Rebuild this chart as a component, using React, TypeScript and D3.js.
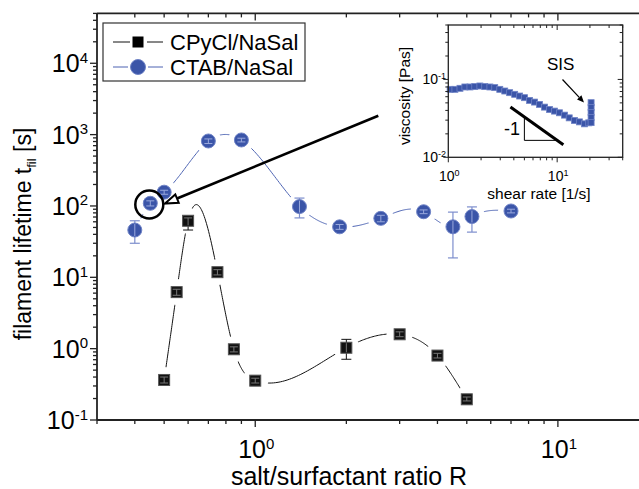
import React from 'react';
import * as d3 from 'd3';

// ---------- data ----------
const ctabR = [0.4, 0.45, 0.5, 0.7, 0.9, 1.4, 1.9, 2.6, 3.6, 4.5, 5.2, 7.0];
const ctabT = [46, 109, 156, 814, 841, 98, 51, 67, 83, 51, 71, 85];
const ctabLo = [30, 100, 146, 750, 790, 68, 47, 60, 78, 18.7, 43, 80];
const ctabHi = [62, 118, 166, 870, 890, 129, 55, 74, 88, 82, 97, 90];

const cpyR = [0.5, 0.55, 0.6, 0.75, 0.85, 1.0, 2.0, 3.0, 4.0, 5.0];
const cpyT = [0.364, 6.2, 62, 11.8, 0.98, 0.356, 1.03, 1.59, 0.8, 0.195];
const cpyLo = [0.33, 5.6, 46, 10.8, 0.9, 0.33, 0.71, 1.47, 0.74, 0.185];
const cpyHi = [0.4, 6.8, 68, 12.8, 1.06, 0.385, 1.35, 1.72, 0.86, 0.21];

const insetShear = [1.04, 1.15, 1.28, 1.42, 1.58, 1.75, 1.95, 2.16, 2.41, 2.67, 2.97, 3.3, 3.66, 4.07, 4.52, 5.02, 5.58, 6.2, 6.89, 7.66, 8.51, 9.45, 10.5, 11.7, 12.9, 14.4, 16.0, 17.8, 19.5, 20.5, 20.5, 20.5, 20.5, 20.5];
const insetVisc = [0.0746, 0.0746, 0.0769, 0.08, 0.08, 0.081, 0.0824, 0.081, 0.08, 0.0785, 0.0746, 0.071, 0.0676, 0.0644, 0.0612, 0.0583, 0.0538, 0.0512, 0.0478, 0.0441, 0.0411, 0.0392, 0.0373, 0.0348, 0.0321, 0.0297, 0.0285, 0.0269, 0.0277, 0.0503, 0.0437, 0.0377, 0.0324, 0.0279];

const mainXMajor = [1, 10];
const mainXMajorExp = ['0', '1'];
const mainYMajor = [0.1, 1, 10, 100, 1000, 10000];
const mainYMajorExp = ['-1', '0', '1', '2', '3', '4'];
const insetXMajor = [1, 10];
const insetXMajorExp = ['0', '1'];
const insetYMajor = [0.01, 0.1];
const insetYMajorExp = ['-2', '-1'];

const legendLabels = ['CPyCl/NaSal', 'CTAB/NaSal'];

// slope triangle (-1)
const slopeX = [3.72, 11.4];
const slopeK = 0.165;
const triX = [5, 10];

const FONT = 'Liberation Sans, Arial, Helvetica, sans-serif';
const BLUE = '#3b55a8';
const BLUE_EDGE = '#6f83c6';
const BLUE_LINE = '#4c63b2';
const BLUE_ERR = '#7d8ecd';

// ---------- scales ----------
const W = 639, H = 489;
const x = d3.scaleLog().domain([0.3, 20]).range([97, 649]);
const y = d3.scaleLog().domain([0.1, 50000]).range([420, 13.4]);
const xi = d3.scaleLog().domain([1, 40]).range([448.3, 622.7]);
const yi = d3.scaleLog().domain([0.01, 0.5]).range([157.3, 25]);

function minorTicks(lo: number, hi: number): number[] {
  const out: number[] = [];
  for (let e = Math.floor(Math.log10(lo)); e <= Math.ceil(Math.log10(hi)); e++) {
    for (let m = 2; m <= 9; m++) {
      const v = m * Math.pow(10, e);
      if (v >= lo * 0.999 && v <= hi * 1.001) out.push(v);
    }
  }
  return out;
}

function naturalSpline(xs: number[], ys: number[], n = 40): [number, number][] {
  const N = xs.length;
  const h: number[] = [];
  for (let i = 0; i < N - 1; i++) h.push(xs[i + 1] - xs[i]);
  const a = new Array(N).fill(0), b = new Array(N).fill(0), c = new Array(N).fill(0), d = new Array(N).fill(0);
  b[0] = 1; b[N - 1] = 1;
  for (let i = 1; i < N - 1; i++) {
    a[i] = h[i - 1];
    b[i] = 2 * (h[i - 1] + h[i]);
    c[i] = h[i];
    d[i] = 6 * ((ys[i + 1] - ys[i]) / h[i] - (ys[i] - ys[i - 1]) / h[i - 1]);
  }
  for (let i = 1; i < N; i++) {
    const m = a[i] / b[i - 1];
    b[i] -= m * c[i - 1];
    d[i] -= m * d[i - 1];
  }
  const M = new Array(N).fill(0);
  M[N - 1] = d[N - 1] / b[N - 1];
  for (let i = N - 2; i >= 0; i--) M[i] = (d[i] - c[i] * M[i + 1]) / b[i];
  const pts: [number, number][] = [];
  for (let i = 0; i < N - 1; i++) {
    for (let k = 0; k <= n; k++) {
      const t = xs[i] + (h[i] * k) / n;
      const A = (xs[i + 1] - t) / h[i];
      const B = (t - xs[i]) / h[i];
      const v = A * ys[i] + B * ys[i + 1] + ((A * A * A - A) * M[i] + (B * B * B - B) * M[i + 1]) * (h[i] * h[i]) / 6;
      pts.push([t, v]);
    }
  }
  return pts;
}

const line = d3.line<[number, number]>().x((p) => p[0]).y((p) => p[1]);

function Sup({ base, exp, bs, es }: { base: string; exp: string; bs: number; es: number }) {
  return (
    <>
      <tspan fontSize={bs}>{base}</tspan>
      <tspan fontSize={es} dy={-bs * 0.38}>{exp}</tspan>
    </>
  );
}

export default function App() {
  const cpyPx = cpyR.map((r) => x(r));
  const cpyPy = cpyT.map((t) => y(t));
  const ctabPx = ctabR.map((r) => x(r));
  const ctabPy = ctabT.map((t) => y(t));
  const cpyCurve = line(naturalSpline(cpyPx, cpyPy)) || '';
  const ctabCurve = line(naturalSpline(ctabPx, ctabPy)) || '';

  const xMinor = minorTicks(0.3, 20).filter((v) => !mainXMajor.includes(v));
  const yMinor = minorTicks(0.1, 50000).filter((v) => !mainYMajor.some((m) => Math.abs(m - v) < 1e-9));
  const xiMinor = minorTicks(1, 40).filter((v) => !insetXMajor.includes(v));
  const yiMinor = minorTicks(0.01, 0.5).filter((v) => !insetYMajor.some((m) => Math.abs(m - v) < 1e-12));

  const L = 97, R = 649, T = 13.4, B = 420;
  const iL = 448.3, iR = 622.7, iT = 25, iB = 157.3;
  const axisCol = '#222';

  const gap = 13;
  const sq = 11;
  const cr = 7;

  function innerErr(cx: number, cy: number, lo: number, hi: number, half: number, col: string, key: string) {
    const y1 = Math.max(hi, cy - half + 1);
    const y2 = Math.min(lo, cy + half - 1);
    const els = [<line key={key + 's'} x1={cx} x2={cx} y1={y1} y2={y2} stroke={col} strokeWidth={1} />];
    if (hi > cy - half) els.push(<line key={key + 'h'} x1={cx - 4} x2={cx + 4} y1={hi} y2={hi} stroke={col} strokeWidth={1} />);
    if (lo < cy + half) els.push(<line key={key + 'l'} x1={cx - 4} x2={cx + 4} y1={lo} y2={lo} stroke={col} strokeWidth={1} />);
    return els;
  }

  // arrow geometry
  const a0 = [378.3, 115.7], a1 = [165, 203.5];
  const ang = Math.atan2(a1[1] - a0[1], a1[0] - a0[0]);
  const ahL = 13, ahW = 4.5;
  const bx = a1[0] - ahL * Math.cos(ang), by = a1[1] - ahL * Math.sin(ang);
  const px = -Math.sin(ang) * ahW, py = Math.cos(ang) * ahW;

  const s0 = [562.5, 79.5], s1 = [584, 102.5];
  const sang = Math.atan2(s1[1] - s0[1], s1[0] - s0[0]);
  const sL = 7, sW = 3;
  const sbx = s1[0] - sL * Math.cos(sang), sby = s1[1] - sL * Math.sin(sang);
  const spx = -Math.sin(sang) * sW, spy = Math.cos(sang) * sW;

  return (
    <svg width={W} height={H} style={{ position: 'absolute', left: 0, top: 0, background: '#fff' }} fontFamily={FONT}>
      <rect x={0} y={0} width={W} height={H} fill="#fff" />
      <defs>
        <mask id="gapBlack" maskUnits="userSpaceOnUse" x={0} y={0} width={W} height={H}>
          <rect x={0} y={0} width={W} height={H} fill="#fff" />
          {cpyPx.map((cx, i) => <circle key={i} cx={cx} cy={cpyPy[i]} r={gap} fill="#000" />)}
        </mask>
        <mask id="gapBlue" maskUnits="userSpaceOnUse" x={0} y={0} width={W} height={H}>
          <rect x={0} y={0} width={W} height={H} fill="#fff" />
          {ctabPx.map((cx, i) => <circle key={i} cx={cx} cy={ctabPy[i]} r={gap} fill="#000" />)}
        </mask>
      </defs>

      {/* curves */}
      <path d={ctabCurve} fill="none" stroke={BLUE_LINE} strokeWidth={1} mask="url(#gapBlue)" />
      <path d={cpyCurve} fill="none" stroke="#111" strokeWidth={1} mask="url(#gapBlack)" />

      {/* error bars (outer) */}
      {ctabR.map((r, i) => {
        const cx = x(r), lo = y(ctabLo[i]), hi = y(ctabHi[i]);
        return (
          <g key={'ce' + i} stroke={BLUE_ERR} strokeWidth={1.2}>
            <line x1={cx} x2={cx} y1={hi} y2={lo} />
            <line x1={cx - 5} x2={cx + 5} y1={hi} y2={hi} />
            <line x1={cx - 5} x2={cx + 5} y1={lo} y2={lo} />
          </g>
        );
      })}
      {cpyR.map((r, i) => {
        const cx = x(r), lo = y(cpyLo[i]), hi = y(cpyHi[i]);
        return (
          <g key={'pe' + i} stroke="#111" strokeWidth={1}>
            <line x1={cx} x2={cx} y1={hi} y2={lo} />
            <line x1={cx - 5} x2={cx + 5} y1={hi} y2={hi} />
            <line x1={cx - 5} x2={cx + 5} y1={lo} y2={lo} />
          </g>
        );
      })}

      {/* markers */}
      {ctabR.map((r, i) => (
        <circle key={'cm' + i} cx={x(r)} cy={y(ctabT[i])} r={cr} fill={BLUE} stroke={BLUE_EDGE} strokeWidth={1} />
      ))}
      {cpyR.map((r, i) => (
        <rect key={'pm' + i} x={x(r) - sq / 2} y={y(cpyT[i]) - sq / 2} width={sq} height={sq} fill="#111" stroke="#555" strokeWidth={1} />
      ))}
      {ctabR.map((r, i) => innerErr(x(r), y(ctabT[i]), y(ctabLo[i]), y(ctabHi[i]), cr, '#9aa9dd', 'ci' + i))}
      {cpyR.map((r, i) => innerErr(x(r), y(cpyT[i]), y(cpyLo[i]), y(cpyHi[i]), sq / 2, '#777', 'pi' + i))}

      {/* annotation circle + arrow */}
      <circle cx={149.3} cy={204.5} r={14} fill="none" stroke="#000" strokeWidth={2.5} />
      <line x1={a0[0]} y1={a0[1]} x2={bx} y2={by} stroke="#000" strokeWidth={2.6} />
      <path d={`M${a1[0]},${a1[1]} L${bx + px},${by + py} L${bx - px},${by - py} Z`} fill="#fff" stroke="#000" strokeWidth={2} strokeLinejoin="miter" />

      {/* main frame */}
      <g stroke={axisCol} strokeWidth={1.8} fill="none">
        <line x1={L} x2={R} y1={B} y2={B} />
        <line x1={L} x2={R} y1={T} y2={T} />
        <line x1={L} x2={L} y1={T} y2={B} />
        <line x1={R} x2={R} y1={T} y2={B} />
      </g>
      <g stroke={axisCol} strokeWidth={1.3}>
        {mainXMajor.map((v) => (
          <g key={'xM' + v}>
            <line x1={x(v)} x2={x(v)} y1={B} y2={B + 7} />
            <line x1={x(v)} x2={x(v)} y1={T} y2={T + 7} />
          </g>
        ))}
        {xMinor.map((v) => (
          <g key={'xm' + v}>
            <line x1={x(v)} x2={x(v)} y1={B} y2={B + 4} />
            <line x1={x(v)} x2={x(v)} y1={T} y2={T + 4} />
          </g>
        ))}
        {mainYMajor.map((v) => (
          <line key={'yM' + v} x1={L - 7} x2={L} y1={y(v)} y2={y(v)} />
        ))}
        {yMinor.map((v) => (
          <line key={'ym' + v} x1={L - 4} x2={L} y1={y(v)} y2={y(v)} />
        ))}
      </g>
      {mainXMajor.map((v, i) => (
        <text key={'xl' + v} x={x(v) + 1} y={458} textAnchor="middle" fill="#000">
          <Sup base="10" exp={mainXMajorExp[i]} bs={25} es={15} />
        </text>
      ))}
      {mainYMajor.map((v, i) => (
        <text key={'yl' + v} x={88} y={y(v) + 9} textAnchor="end" fill="#000">
          <Sup base="10" exp={mainYMajorExp[i]} bs={25} es={15} />
        </text>
      ))}
      <text x={349} y={485} textAnchor="middle" fontSize={25} fill="#000">salt/surfactant ratio R</text>
      <text transform={`translate(31,234) rotate(-90)`} textAnchor="middle" fontSize={23} fill="#000">
        filament lifetime t<tspan fontSize={13} dy={5}>fil</tspan><tspan dy={-5}> [s]</tspan>
      </text>

      {/* legend */}
      <rect x={103} y={23} width={202} height={58} fill="#fff" stroke="#333" strokeWidth={1.2} />
      <line x1={113} x2={130} y1={42} y2={42} stroke="#111" strokeWidth={1} />
      <line x1={147} x2={163} y1={42} y2={42} stroke="#111" strokeWidth={1} />
      <rect x={138 - sq / 2} y={42 - sq / 2} width={sq} height={sq} fill="#000" />
      <line x1={113} x2={128} y1={67} y2={67} stroke={BLUE_LINE} strokeWidth={1} />
      <line x1={148} x2={163} y1={67} y2={67} stroke={BLUE_LINE} strokeWidth={1} />
      <circle cx={138} cy={67} r={7.5} fill={BLUE} stroke={BLUE_EDGE} strokeWidth={1} />
      <text x={170} y={50} fontSize={22} fill="#000">{legendLabels[0]}</text>
      <text x={170} y={75} fontSize={22} fill="#000">{legendLabels[1]}</text>

      {/* inset */}
      <rect x={iL} y={iT} width={iR - iL} height={iB - iT} fill="#fff" stroke="none" />
      {insetShear.map((s, i) => (
        <rect key={'is' + i} x={xi(s) - 3} y={yi(insetVisc[i]) - 3} width={6} height={6} fill={BLUE} stroke={BLUE_EDGE} strokeWidth={0.8} />
      ))}
      <line x1={xi(slopeX[0])} y1={yi(slopeK / slopeX[0])} x2={xi(slopeX[1])} y2={yi(slopeK / slopeX[1])} stroke="#000" strokeWidth={3} />
      <path d={`M${xi(triX[0])},${yi(slopeK / triX[0])} L${xi(triX[0])},${yi(slopeK / triX[1])} L${xi(triX[1])},${yi(slopeK / triX[1])}`} fill="none" stroke="#000" strokeWidth={1} />
      <text x={520} y={135} textAnchor="end" fontSize={18} fill="#000">-1</text>
      <text x={547} y={70} fontSize={17} fill="#000">SIS</text>
      <line x1={s0[0]} y1={s0[1]} x2={sbx} y2={sby} stroke="#000" strokeWidth={1.2} />
      <path d={`M${s1[0]},${s1[1]} L${sbx + spx},${sby + spy} L${sbx - spx},${sby - spy} Z`} fill="#000" />

      <g stroke={axisCol} strokeWidth={1.3} fill="none">
        <rect x={iL} y={iT} width={iR - iL} height={iB - iT} />
      </g>
      <g stroke={axisCol} strokeWidth={1}>
        {insetXMajor.map((v) => (
          <g key={'ixM' + v}>
            <line x1={xi(v)} x2={xi(v)} y1={iB} y2={iB + 5} />
            <line x1={xi(v)} x2={xi(v)} y1={iT} y2={iT + 5} />
          </g>
        ))}
        {xiMinor.map((v) => (
          <g key={'ixm' + v}>
            <line x1={xi(v)} x2={xi(v)} y1={iB} y2={iB + 3} />
            <line x1={xi(v)} x2={xi(v)} y1={iT} y2={iT + 3} />
          </g>
        ))}
        {insetYMajor.map((v) => (
          <g key={'iyM' + v}>
            <line x1={iL - 5} x2={iL} y1={yi(v)} y2={yi(v)} />
            <line x1={iR - 5} x2={iR} y1={yi(v)} y2={yi(v)} />
          </g>
        ))}
        {yiMinor.map((v) => (
          <g key={'iym' + v}>
            <line x1={iL - 3} x2={iL} y1={yi(v)} y2={yi(v)} />
            <line x1={iR - 3} x2={iR} y1={yi(v)} y2={yi(v)} />
          </g>
        ))}
      </g>
      {insetXMajor.map((v, i) => (
        <text key={'ixl' + v} x={xi(v) + 1} y={181} textAnchor="middle" fill="#000">
          <Sup base="10" exp={insetXMajorExp[i]} bs={14} es={9} />
        </text>
      ))}
      {insetYMajor.map((v, i) => (
        <text key={'iyl' + v} x={446} y={yi(v) + 5} textAnchor="end" fill="#000">
          <Sup base="10" exp={insetYMajorExp[i]} bs={14} es={9} />
        </text>
      ))}
      <text x={539} y={199} textAnchor="middle" fontSize={15.5} fill="#000">shear rate [1/s]</text>
      <text transform={`translate(410,96) rotate(-90)`} textAnchor="middle" fontSize={15.5} fill="#000">viscosity [Pas]</text>
    </svg>
  );
}
